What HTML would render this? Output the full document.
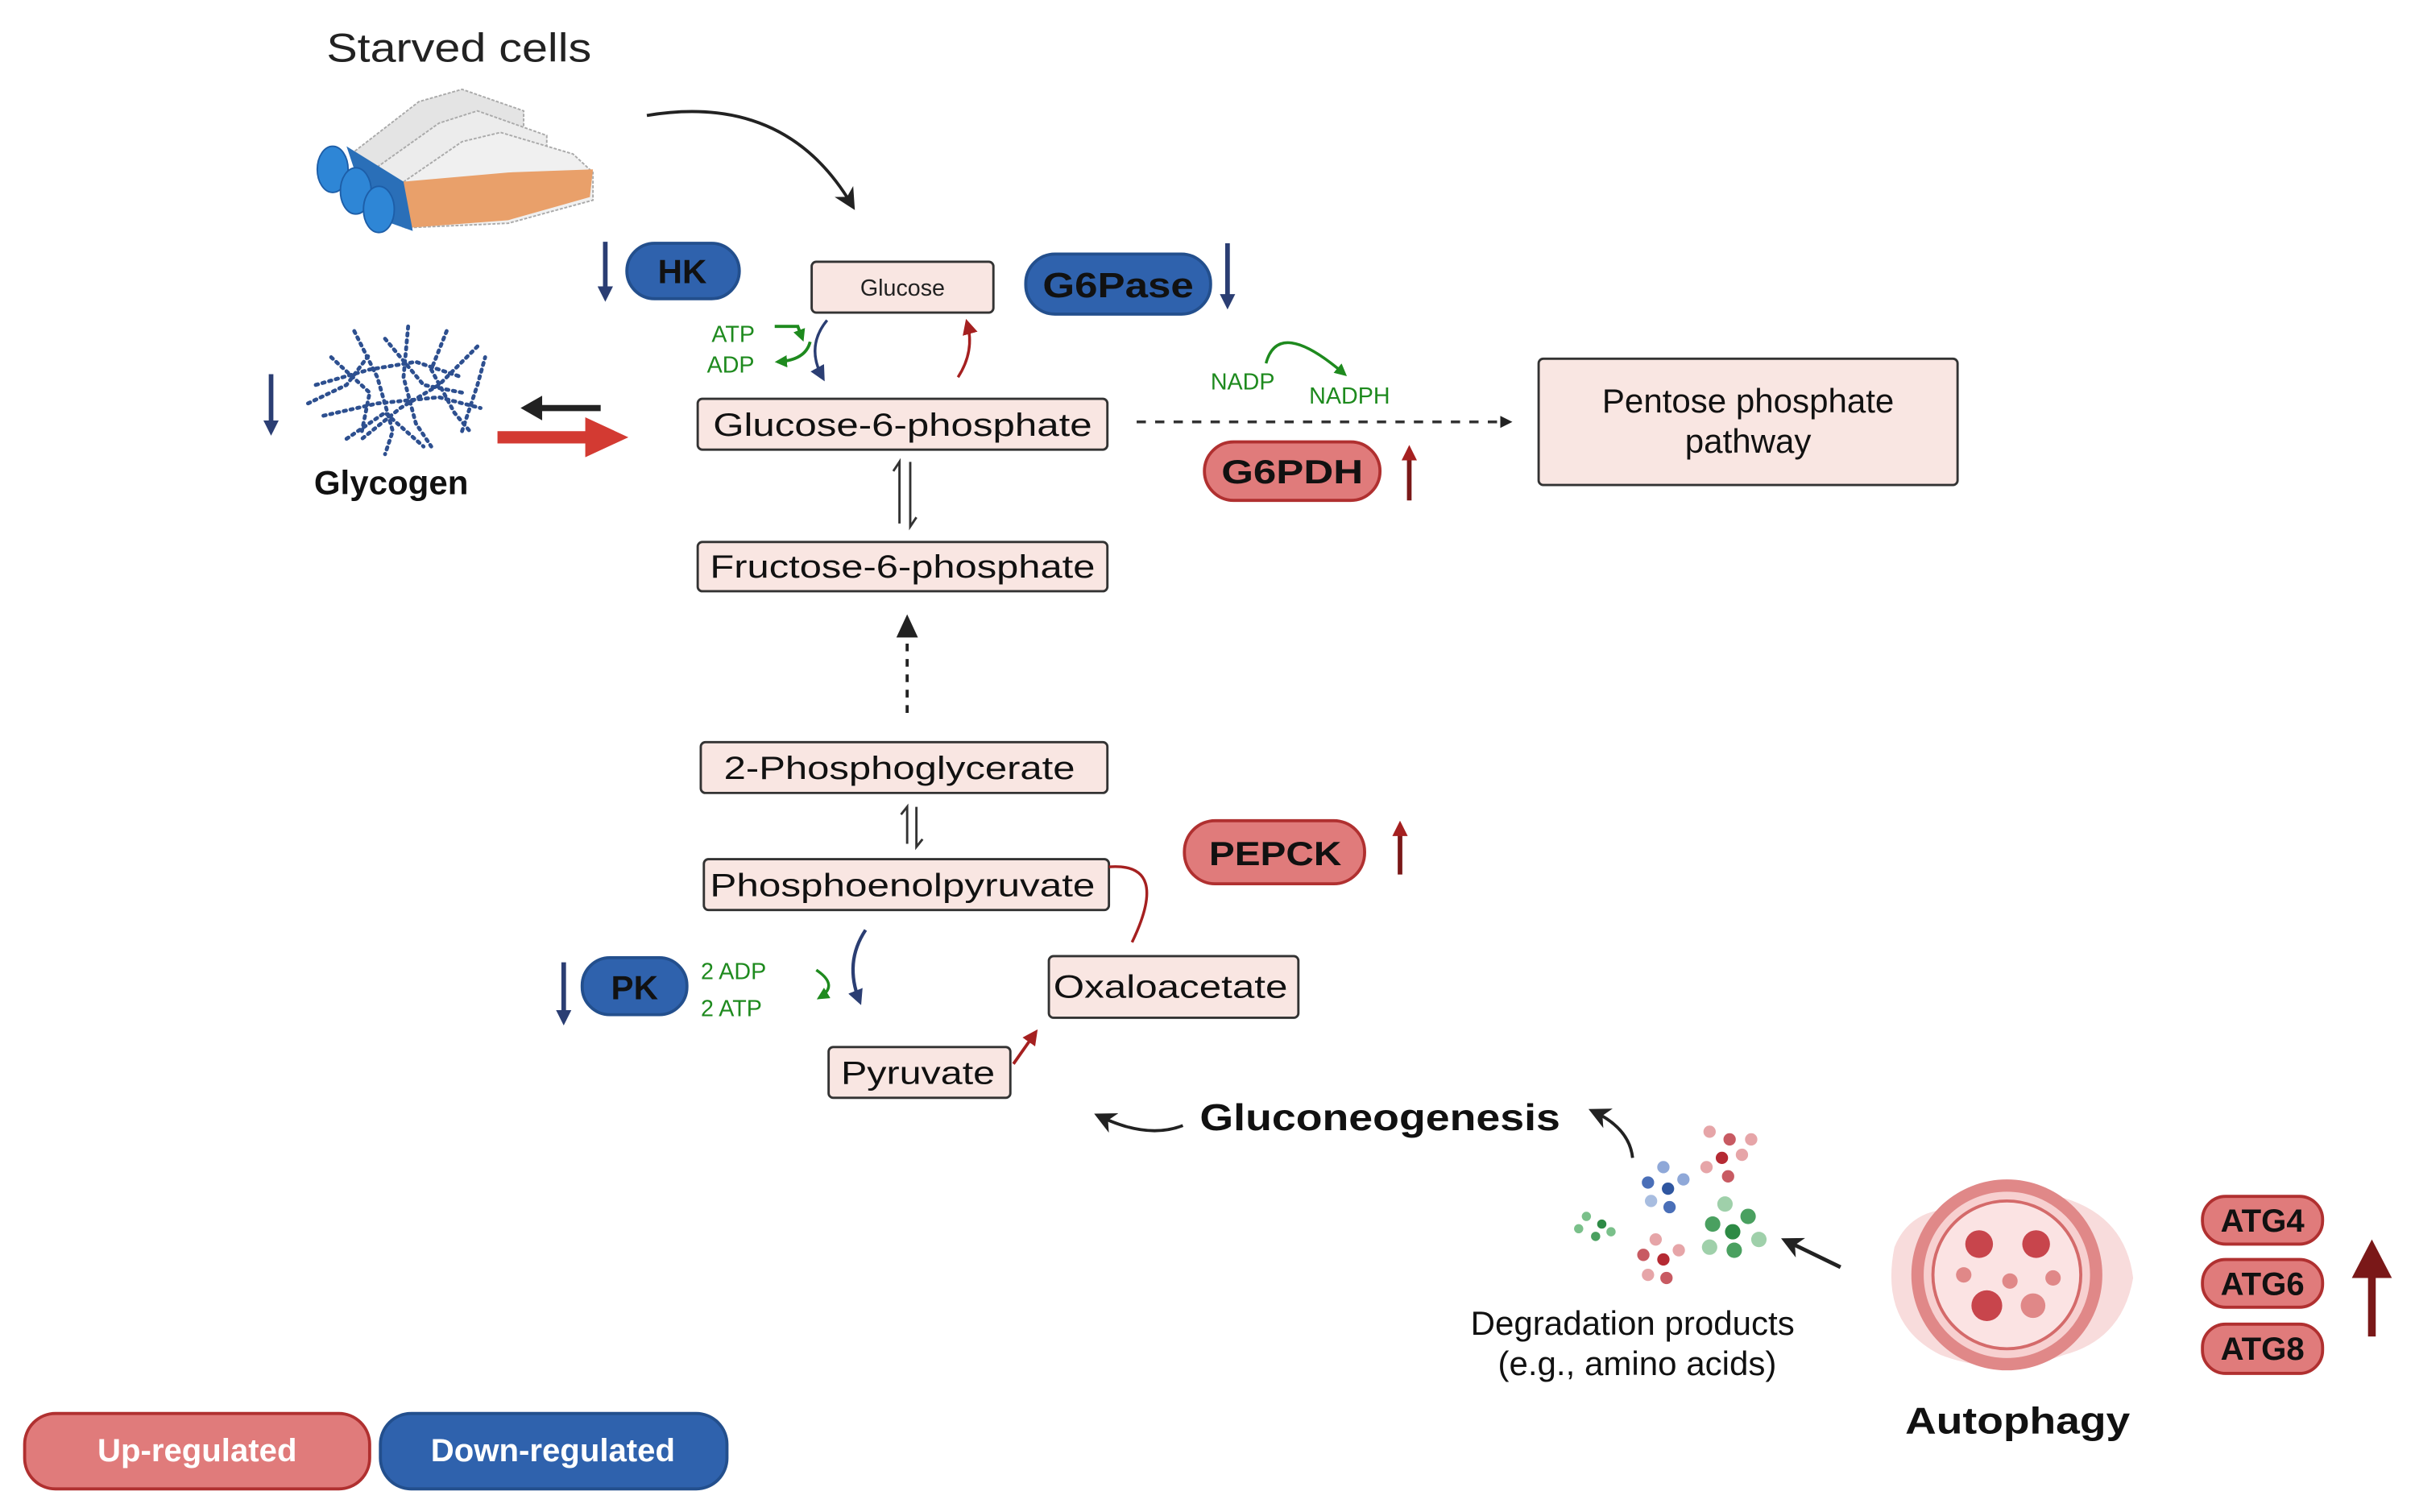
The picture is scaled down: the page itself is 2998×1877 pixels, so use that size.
<!DOCTYPE html>
<html><head><meta charset="utf-8"><style>
html,body{margin:0;padding:0;background:#fff}
svg{display:block}
text{font-family:"Liberation Sans",sans-serif}
</style></head><body>
<svg width="2998" height="1877" viewBox="0 0 1568 982" preserveAspectRatio="none" xmlns="http://www.w3.org/2000/svg">
<defs>
<marker id="ak" markerWidth="8" markerHeight="8" refX="6" refY="4" orient="auto" markerUnits="userSpaceOnUse"><path d="M0,0 L8,4 L0,8 Z" fill="#222"/></marker>
<marker id="akb" markerWidth="14" markerHeight="14" refX="10" refY="7" orient="auto" markerUnits="userSpaceOnUse"><path d="M0,0 L14,7 L0,14 L4,7 Z" fill="#222"/></marker>
<marker id="an" markerWidth="10" markerHeight="10" refX="7" refY="5" orient="auto" markerUnits="userSpaceOnUse"><path d="M0,0 L10,5 L0,10 Z" fill="#2b3e73"/></marker>
<marker id="ar" markerWidth="10" markerHeight="10" refX="7" refY="5" orient="auto" markerUnits="userSpaceOnUse"><path d="M0,0 L10,5 L0,10 Z" fill="#a52020"/></marker>
<marker id="ag" markerWidth="8" markerHeight="8" refX="6" refY="4" orient="auto" markerUnits="userSpaceOnUse"><path d="M0,0 L8,4 L0,8 Z" fill="#1e8a1e"/></marker>
</defs>

<text x="298" y="40" font-size="26" text-anchor="middle" fill="#222" textLength="172" lengthAdjust="spacingAndGlyphs">Starved cells</text>
<g>
<polygon points="228,100 272,66 300,58 340,72 340,85 300,90 250,115" fill="#e4e4e4" stroke="#aaa" stroke-dasharray="2,1"/>
<polygon points="240,112 285,80 310,72 355,88 355,100 300,105 255,128" fill="#ececec" stroke="#aaa" stroke-dasharray="2,1"/>
<polygon points="252,125 300,92 325,86 372,100 385,112 385,130 330,145 262,148" fill="#f0f0f0" stroke="#aaa" stroke-dasharray="2,1"/>
<polygon points="262,118 330,112 385,110 383,128 330,143 265,148" fill="#e9a06a"/>
<polygon points="225,95 262,118 268,150 240,140" fill="#2a6fb8"/>
<ellipse cx="216" cy="110" rx="10" ry="15" fill="#2e86d6" stroke="#1d5ea8"/>
<ellipse cx="231" cy="124" rx="10" ry="15" fill="#2e86d6" stroke="#1d5ea8"/>
<ellipse cx="246" cy="136" rx="10" ry="15" fill="#2e86d6" stroke="#1d5ea8"/>
</g>
<path d="M420,75 Q510,60 553,133" fill="none" stroke="#222" stroke-width="2" marker-end="url(#akb)"/>

<line x1="393" y1="157" x2="393" y2="193" stroke="#2b3e73" stroke-width="3" marker-end="url(#an)"/>
<rect x="407" y="158" width="73" height="36" rx="18" fill="#2f62ad" stroke="#234f8d" stroke-width="2"/>
<text x="443" y="184" font-size="22" font-weight="bold" text-anchor="middle" fill="#111">HK</text>

<rect x="527" y="170" width="118" height="33" rx="3" fill="#f9e6e2" stroke="#333" stroke-width="1.5"/>
<text x="586" y="192" font-size="15" text-anchor="middle" fill="#222">Glucose</text>

<rect x="666" y="165" width="120" height="39" rx="19" fill="#2f62ad" stroke="#234f8d" stroke-width="2"/>
<text x="726" y="193" font-size="23" font-weight="bold" text-anchor="middle" fill="#111" textLength="98" lengthAdjust="spacingAndGlyphs">G6Pase</text>
<line x1="797" y1="158" x2="797" y2="198" stroke="#2b3e73" stroke-width="3" marker-end="url(#an)"/>

<text x="462" y="222" font-size="15" fill="#1e8a1e">ATP</text>
<text x="459" y="242" font-size="15" fill="#1e8a1e">ADP</text>
<path d="M503,212 L518,212 L521,220" fill="none" stroke="#1e8a1e" stroke-width="2" marker-end="url(#ag)"/>
<path d="M526,222 Q523,234 505,235" fill="none" stroke="#1e8a1e" stroke-width="2" marker-end="url(#ag)"/>
<path d="M537,208 Q523,225 534,245" fill="none" stroke="#2b3e73" stroke-width="1.8" marker-end="url(#an)"/>
<path d="M622,245 Q633,228 628,210" fill="none" stroke="#a52020" stroke-width="1.8" marker-end="url(#ar)"/>

<g fill="none" stroke="#2d4f8f" stroke-width="2.5" stroke-dasharray="1.5,3" stroke-linecap="round">
<path d="M205,250 L240,240 L270,235 L300,245"/>
<path d="M210,270 L245,262 L285,258 L312,265"/>
<path d="M230,215 L245,245 L255,280 L250,295"/>
<path d="M265,212 L262,245 L270,275 L280,290"/>
<path d="M290,215 L280,240 L295,268 L305,280"/>
<path d="M215,232 L240,255 L235,280"/>
<path d="M310,225 L285,250 L260,265 L235,285"/>
<path d="M250,220 L275,250 L300,255"/>
<path d="M225,285 L250,268 L275,290"/>
<path d="M200,262 L225,250 L240,230"/>
<path d="M300,280 L310,250 L315,232"/>
</g>
<line x1="176" y1="243" x2="176" y2="280" stroke="#2b3e73" stroke-width="3" marker-end="url(#an)"/>
<text x="254" y="321" font-size="22" font-weight="bold" text-anchor="middle" fill="#111">Glycogen</text>
<line x1="390" y1="265" x2="345" y2="265" stroke="#222" stroke-width="4"/>
<polygon points="338,265 352,257 352,273" fill="#222"/>
<line x1="323" y1="284" x2="385" y2="284" stroke="#d33a32" stroke-width="8"/>
<polygon points="380,271 408,284 380,297" fill="#d33a32"/>

<rect x="453" y="259" width="266" height="33" rx="3" fill="#f9e6e2" stroke="#333" stroke-width="1.5"/>
<text x="586" y="283" font-size="21" text-anchor="middle" fill="#111" textLength="246" lengthAdjust="spacingAndGlyphs">Glucose-6-phosphate</text>

<line x1="738" y1="274" x2="980" y2="274" stroke="#333" stroke-width="1.8" stroke-dasharray="6,6" marker-end="url(#ak)"/>
<text x="786" y="253" font-size="15" fill="#1e8a1e">NADP</text>
<text x="850" y="262" font-size="15" fill="#1e8a1e">NADPH</text>
<path d="M822,236 Q830,206 873,243" fill="none" stroke="#1e8a1e" stroke-width="1.8" marker-end="url(#ag)"/>

<rect x="782" y="287" width="114" height="38" rx="19" fill="#e07b7b" stroke="#b03030" stroke-width="2"/>
<text x="839" y="314" font-size="22" font-weight="bold" text-anchor="middle" fill="#111" textLength="92" lengthAdjust="spacingAndGlyphs">G6PDH</text>
<line x1="915" y1="325" x2="915" y2="292" stroke="#7a1818" stroke-width="3" marker-end="url(#ar)"/>

<rect x="999" y="233" width="272" height="82" rx="3" fill="#f9e6e2" stroke="#333" stroke-width="1.5"/>
<text x="1135" y="268" font-size="22" text-anchor="middle" fill="#111">Pentose phosphate</text>
<text x="1135" y="294" font-size="22" text-anchor="middle" fill="#111">pathway</text>

<path d="M584,340 L584,300 L580,306" fill="none" stroke="#333" stroke-width="1.5"/>
<path d="M591,300 L591,342 L595,336" fill="none" stroke="#333" stroke-width="1.5"/>

<rect x="453" y="352" width="266" height="32" rx="3" fill="#f9e6e2" stroke="#333" stroke-width="1.5"/>
<text x="586" y="375" font-size="21" text-anchor="middle" fill="#111" textLength="250" lengthAdjust="spacingAndGlyphs">Fructose-6-phosphate</text>

<line x1="589" y1="463" x2="589" y2="403" stroke="#222" stroke-width="2" stroke-dasharray="5,5"/>
<polygon points="582,414 589,399 596,414" fill="#222"/>

<rect x="455" y="482" width="264" height="33" rx="3" fill="#f9e6e2" stroke="#333" stroke-width="1.5"/>
<text x="584" y="506" font-size="21" text-anchor="middle" fill="#111" textLength="228" lengthAdjust="spacingAndGlyphs">2-Phosphoglycerate</text>

<path d="M589,548 L589,524 L585,529" fill="none" stroke="#333" stroke-width="1.5"/>
<path d="M595,524 L595,550 L599,545" fill="none" stroke="#333" stroke-width="1.5"/>

<rect x="457" y="558" width="263" height="33" rx="3" fill="#f9e6e2" stroke="#333" stroke-width="1.5"/>
<text x="586" y="582" font-size="21" text-anchor="middle" fill="#111" textLength="250" lengthAdjust="spacingAndGlyphs">Phosphoenolpyruvate</text>

<path d="M720,563 Q760,560 735,612" fill="none" stroke="#a52020" stroke-width="1.8"/>

<rect x="769" y="533" width="117" height="41" rx="20" fill="#e07b7b" stroke="#b03030" stroke-width="2"/>
<text x="828" y="562" font-size="22" font-weight="bold" text-anchor="middle" fill="#111" textLength="86" lengthAdjust="spacingAndGlyphs">PEPCK</text>
<line x1="909" y1="568" x2="909" y2="536" stroke="#7a1818" stroke-width="3" marker-end="url(#ar)"/>

<line x1="366" y1="625" x2="366" y2="663" stroke="#2b3e73" stroke-width="3" marker-end="url(#an)"/>
<rect x="378" y="622" width="68" height="37" rx="18" fill="#2f62ad" stroke="#234f8d" stroke-width="2"/>
<text x="412" y="649" font-size="22" font-weight="bold" text-anchor="middle" fill="#111">PK</text>
<text x="455" y="636" font-size="15" fill="#1e8a1e">2 ADP</text>
<text x="455" y="660" font-size="15" fill="#1e8a1e">2 ATP</text>
<path d="M530,630 Q545,640 532,648" fill="none" stroke="#1e8a1e" stroke-width="1.8" marker-end="url(#ag)"/>
<path d="M562,604 Q548,625 558,650" fill="none" stroke="#2b3e73" stroke-width="2.2" marker-end="url(#an)"/>

<rect x="681" y="621" width="162" height="40" rx="3" fill="#f9e6e2" stroke="#333" stroke-width="1.5"/>
<text x="760" y="648" font-size="21" text-anchor="middle" fill="#111" textLength="152" lengthAdjust="spacingAndGlyphs">Oxaloacetate</text>

<rect x="538" y="680" width="118" height="33" rx="3" fill="#f9e6e2" stroke="#333" stroke-width="1.5"/>
<text x="596" y="704" font-size="21" text-anchor="middle" fill="#111" textLength="100" lengthAdjust="spacingAndGlyphs">Pyruvate</text>
<line x1="658" y1="691" x2="672" y2="671" stroke="#a52020" stroke-width="2" marker-end="url(#ar)"/>

<text x="896" y="734" font-size="24" font-weight="bold" text-anchor="middle" fill="#111" textLength="234" lengthAdjust="spacingAndGlyphs">Gluconeogenesis</text>
<path d="M768,731 Q745,740 714,725" fill="none" stroke="#222" stroke-width="2" marker-end="url(#akb)"/>
<path d="M1060,752 Q1058,733 1035,722" fill="none" stroke="#222" stroke-width="2" marker-end="url(#akb)"/>
<line x1="1195" y1="823" x2="1160" y2="806" stroke="#222" stroke-width="2.5" marker-end="url(#akb)"/>

<g>
<circle cx="1110" cy="735" r="4" fill="#e6a5a8"/><circle cx="1123" cy="740" r="4" fill="#c85a62"/><circle cx="1118" cy="752" r="4" fill="#b52a33"/><circle cx="1108" cy="758" r="4" fill="#e6a5a8"/><circle cx="1131" cy="750" r="4" fill="#e6a5a8"/><circle cx="1122" cy="764" r="4" fill="#c85a62"/><circle cx="1137" cy="740" r="4" fill="#e6a5a8"/>
<circle cx="1080" cy="758" r="4" fill="#8fa8d8"/><circle cx="1070" cy="768" r="4" fill="#4a6fb8"/><circle cx="1083" cy="772" r="4" fill="#2f56a0"/><circle cx="1093" cy="766" r="4" fill="#8fa8d8"/><circle cx="1072" cy="780" r="4" fill="#a8bde0"/><circle cx="1084" cy="784" r="4" fill="#4a6fb8"/>
<circle cx="1030" cy="790" r="3" fill="#7ac08a"/><circle cx="1040" cy="795" r="3" fill="#2d8a45"/><circle cx="1025" cy="798" r="3" fill="#7ac08a"/><circle cx="1036" cy="803" r="3" fill="#4aa060"/><circle cx="1046" cy="800" r="3" fill="#7ac08a"/>
<circle cx="1120" cy="782" r="5" fill="#9fd0aa"/><circle cx="1112" cy="795" r="5" fill="#4aa060"/><circle cx="1125" cy="800" r="5" fill="#2d8a45"/><circle cx="1135" cy="790" r="5" fill="#4aa060"/><circle cx="1110" cy="810" r="5" fill="#9fd0aa"/><circle cx="1126" cy="812" r="5" fill="#4aa060"/><circle cx="1142" cy="805" r="5" fill="#9fd0aa"/>
<circle cx="1075" cy="805" r="4" fill="#e6a5a8"/><circle cx="1067" cy="815" r="4" fill="#c85a62"/><circle cx="1080" cy="818" r="4" fill="#b52a33"/><circle cx="1090" cy="812" r="4" fill="#e6a5a8"/><circle cx="1070" cy="828" r="4" fill="#e6a5a8"/><circle cx="1082" cy="830" r="4" fill="#c85a62"/>
</g>
<text x="1060" y="867" font-size="22" text-anchor="middle" fill="#111">Degradation products</text>
<text x="1063" y="893" font-size="22" text-anchor="middle" fill="#111">(e.g., amino acids)</text>

<path d="M1230,810 Q1240,785 1270,785 Q1300,770 1340,778 Q1380,790 1385,830 Q1378,870 1340,880 Q1300,895 1260,880 Q1220,860 1230,810 Z" fill="#f8dcdc"/>
<circle cx="1303" cy="828" r="58" fill="#f7d0d0" stroke="#e08888" stroke-width="8"/>
<circle cx="1303" cy="828" r="48" fill="#fbe3e3" stroke="#d46a6a" stroke-width="2"/>
<circle cx="1285" cy="808" r="9" fill="#c8454c"/><circle cx="1322" cy="808" r="9" fill="#c8454c"/>
<circle cx="1290" cy="848" r="10" fill="#c8454c"/><circle cx="1320" cy="848" r="8" fill="#e08888"/>
<circle cx="1275" cy="828" r="5" fill="#e08888"/><circle cx="1305" cy="832" r="5" fill="#e08888"/><circle cx="1333" cy="830" r="5" fill="#e08888"/>
<text x="1310" y="931" font-size="24" font-weight="bold" text-anchor="middle" fill="#111" textLength="146" lengthAdjust="spacingAndGlyphs">Autophagy</text>

<rect x="1430" y="777" width="78" height="31" rx="15" fill="#e07b7b" stroke="#b03030" stroke-width="2"/>
<text x="1469" y="800" font-size="21" font-weight="bold" text-anchor="middle" fill="#111">ATG4</text>
<rect x="1430" y="818" width="78" height="31" rx="15" fill="#e07b7b" stroke="#b03030" stroke-width="2"/>
<text x="1469" y="841" font-size="21" font-weight="bold" text-anchor="middle" fill="#111">ATG6</text>
<rect x="1430" y="860" width="78" height="32" rx="15" fill="#e07b7b" stroke="#b03030" stroke-width="2"/>
<text x="1469" y="883" font-size="21" font-weight="bold" text-anchor="middle" fill="#111">ATG8</text>
<line x1="1540" y1="868" x2="1540" y2="825" stroke="#7a1818" stroke-width="5"/>
<polygon points="1527,830 1540,805 1553,830" fill="#7a1818"/>

<rect x="16" y="918" width="224" height="49" rx="20" fill="#e07b7b" stroke="#b03030" stroke-width="2"/>
<text x="128" y="949" font-size="21" font-weight="bold" text-anchor="middle" fill="#fff">Up-regulated</text>
<rect x="247" y="918" width="225" height="49" rx="20" fill="#2f62ad" stroke="#234f8d" stroke-width="2"/>
<text x="359" y="949" font-size="21" font-weight="bold" text-anchor="middle" fill="#fff">Down-regulated</text>
</svg>
</body></html>
